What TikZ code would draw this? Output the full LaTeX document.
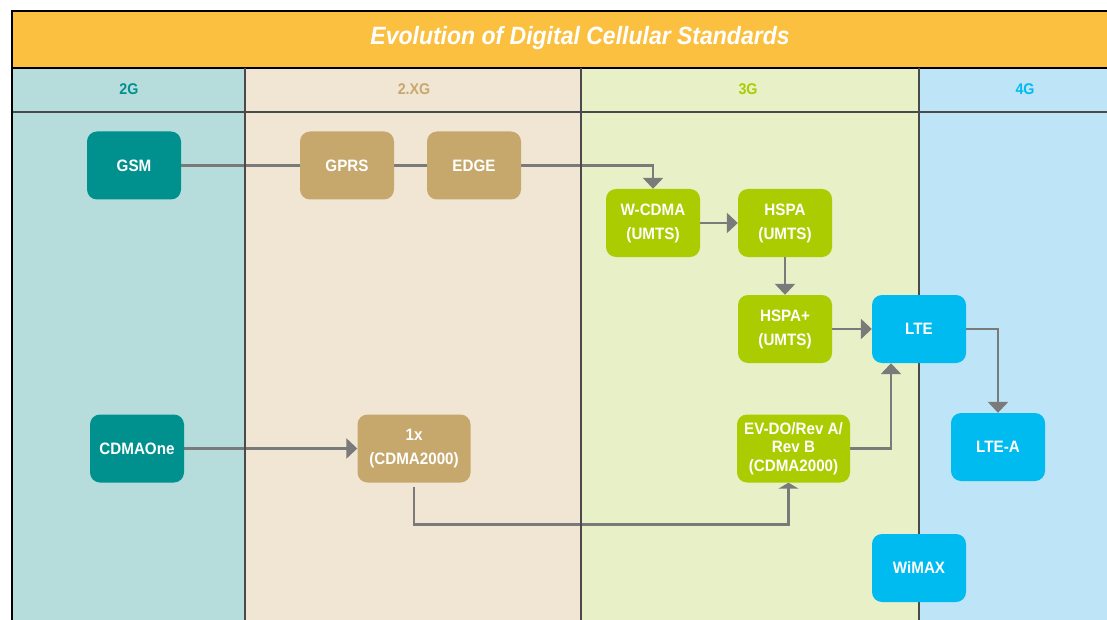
\documentclass[tikz,border=0pt]{standalone}
\usepackage{fontspec}
\setmainfont{Liberation Sans}[FakeStretch=0.92]
\usetikzlibrary{arrows.meta,calc}
\definecolor{titleor}{HTML}{FBC040}
\definecolor{bgA}{HTML}{B6DDDB}
\definecolor{bgB}{HTML}{F1E5D4}
\definecolor{bgC}{HTML}{E7F0C7}
\definecolor{bgD}{HTML}{BEE4F8}
\definecolor{cA}{HTML}{00918F}
\definecolor{cB}{HTML}{C6A86D}
\definecolor{cC}{HTML}{AACC00}
\definecolor{cD}{HTML}{00BBEF}
\definecolor{conn}{HTML}{7A7A7A}
\definecolor{divg}{HTML}{4A4A4A}
\pgfdeclarelayer{bg}
\pgfdeclarelayer{cn}
\pgfsetlayers{bg,cn,main}
\begin{document}
\begin{tikzpicture}[x=1pt,y=-1pt,
  std/.style={rounded corners=10pt, minimum width=94pt, minimum height=68pt,
    text=white, font=\fontsize{16.5}{24}\selectfont\bfseries, align=center, inner sep=0pt},
  stdA/.style={std, fill=cA},
  stdB/.style={std, fill=cB},
  stdC/.style={std, fill=cC},
  stdD/.style={std, fill=cD},
  wide/.style={minimum width=113pt},
  hdr/.style={font=\fontsize{15.5}{18}\selectfont\bfseries},
  link/.style={draw=conn, line width=2.6pt},
  arr/.style={link, -{Triangle[length=11pt,width=20pt]}},
  arrsm/.style={link, -{Triangle[length=6pt,width=20pt]}},
  divline/.style={draw=divg, line width=1.3pt}
]
\useasboundingbox (0,0) rectangle (1107,620);
\clip (0,0) rectangle (1107,620);

% nodes
\node[stdA] (gsm) at (134,165.5) {GSM};
\node[stdB] (gprs) at (347,165.5) {GPRS};
\node[stdB] (edge) at (474,165.5) {EDGE};
\node[stdC] (wcdma) at (653,223) {W-CDMA\\(UMTS)};
\node[stdC] (hspa) at (785,223) {HSPA\\(UMTS)};
\node[stdC] (hspap) at (785,329) {HSPA+\\(UMTS)};
\node[stdD] (lte) at (919,329) {LTE};
\node[stdA] (cdmaone) at (137,448.5) {CDMAOne};
\node[stdB, wide] (onex) at (414,448.5) {1x\\(CDMA2000)};
\node[stdC, wide, font=\fontsize{16.5}{18.5}\selectfont\bfseries] (evdo) at (793.5,448.5) {EV-DO/Rev A/\\Rev B\\(CDMA2000)};
\node[stdD] (ltea) at (998,447) {LTE-A};
\node[stdD] (wimax) at (919,568) {WiMAX};

% background
\begin{pgfonlayer}{bg}
\fill[white] (0,0) rectangle (1107,620);
\fill[bgA] (12,68) rectangle (245,660);
\fill[bgB] (245,68) rectangle (581,660);
\fill[bgC] (581,68) rectangle (919,660);
\fill[bgD] (919,68) rectangle (1160,660);
\fill[titleor] (12,11) rectangle (1160,68);
\node[text=white, font=\fontsize{25}{30}\selectfont\bfseries\itshape] (title) at (580,38) {Evolution of Digital Cellular Standards};
\node[hdr, text=cA] (h2) at (129,89) {2G};
\node[hdr, text=cB] (h25) at (414,89) {2.XG};
\node[hdr, text=cC] (h3) at (748,89) {3G};
\node[hdr, text=cD] (h4) at (1025,89) {4G};
\draw[black, line width=1.5pt] (12,68) -- (1160,68);
\draw[divg, line width=1.5pt] (12,112) -- (1160,112);
\draw[black, line width=2.4pt] (12,660) -- (12,11) -- (1160,11);
\end{pgfonlayer}

% connectors
\begin{pgfonlayer}{cn}
\draw[link] (gsm.east) -- (gprs.west);
\draw[link] (gprs.east) -- (edge.west);
\draw[arr] (edge.east) -| (wcdma.north);
\draw[arr] (wcdma) -- (hspa);
\draw[arr] (hspa) -- (hspap);
\draw[arr] (hspap) -- (lte);
\draw[arr] (lte.east) -| (ltea.north);
\draw[arr] (cdmaone) -- (onex);
\draw[arrsm] ($(onex.south)+(0,4)$) |- ($(evdo.south)+(-5,42)$) -- ($(evdo.south)+(-5,0)$);
\draw[arr] (evdo.east) -| ($(lte.south)+(-28,0)$);
\draw[divline] (245,68) -- (245,660);
\draw[divline] (581,68) -- (581,660);
\draw[divline] (919,68) -- (919,660);
\end{pgfonlayer}
\end{tikzpicture}
\end{document}
